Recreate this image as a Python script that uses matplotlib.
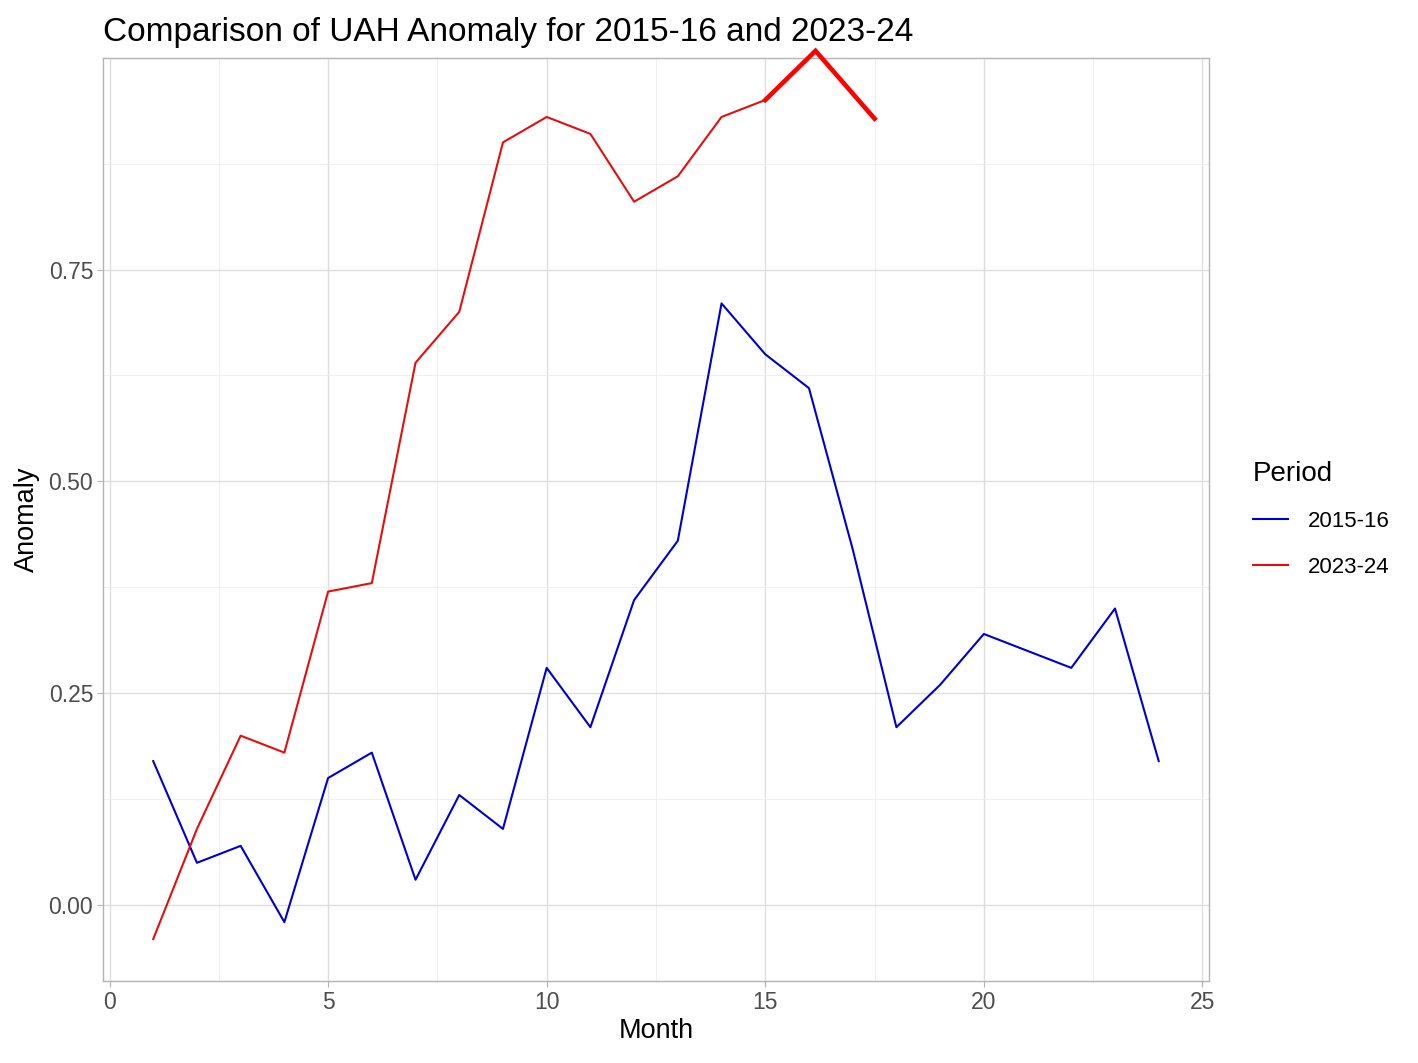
import matplotlib
matplotlib.use("Agg")
import matplotlib.pyplot as plt
from matplotlib.lines import Line2D

plt.rcParams['font.family'] = ['Liberation Sans', 'DejaVu Sans']

# 2015-16 anomalies, months 1..24
months_2015 = list(range(1, 25))
anom_2015 = [0.17, 0.05, 0.07, -0.02, 0.15, 0.18, 0.03, 0.13, 0.09, 0.28, 0.21, 0.36,
             0.43, 0.71, 0.65, 0.61, 0.42, 0.21, 0.26, 0.32, 0.30, 0.28, 0.35, 0.17]

# 2023-24 anomalies, months 1..15
months_2023 = list(range(1, 16))
anom_2023 = [-0.04, 0.09, 0.20, 0.18, 0.37, 0.38, 0.64, 0.70, 0.90, 0.93, 0.91, 0.83,
             0.86, 0.93, 0.95]

# extra highlighted segment (drawn on top, not clipped)
months_extra = [15, 16.15, 17.5]
anom_extra = [0.95, 1.008, 0.928]

fig = plt.figure(figsize=(14.18, 10.63), dpi=100)
ax = fig.add_axes([0.0726, 0.0771, 0.78, 0.8683])

ax.plot(months_2015, anom_2015, color='#0000CD', lw=1.5, zorder=3)
ax.plot(months_2023, anom_2023, color='#E01010', lw=1.5, zorder=3)
ax.plot(months_extra, anom_extra, color='#FF0000', lw=3.3, zorder=4,
        clip_on=False, solid_joinstyle='miter')

ax.set_xlim(-0.15, 25.15)
ax.set_ylim(-0.0895, 0.9995)
ax.set_xticks([0, 5, 10, 15, 20, 25])
ax.set_xticks([2.5, 7.5, 12.5, 17.5, 22.5], minor=True)
ax.set_yticks([0.0, 0.25, 0.5, 0.75])
ax.set_yticklabels(['0.00', '0.25', '0.50', '0.75'])
ax.set_yticks([-0.125 + 0.25 * i for i in range(5)][1:], minor=True)

ax.grid(which='major', color='#DEDEDE', lw=1.0)
ax.grid(which='minor', color='#EFEFEF', lw=0.7)
ax.set_axisbelow(True)
for s in ax.spines.values():
    s.set_color('#B3B3B3')
    s.set_linewidth(1.0)
ax.tick_params(which='major', length=4, color='#B3B3B3', labelsize=16.5,
               labelcolor='#4D4D4D', pad=3)
ax.tick_params(which='minor', length=0)

ax.set_xlabel('Month', fontsize=19.5, labelpad=3)
ax.set_ylabel('Anomaly', fontsize=19.5, labelpad=6)
ax.set_title('Comparison of UAH Anomaly for 2015-16 and 2023-24', fontsize=24,
             loc='left', x=0.0, pad=12)

handles = [Line2D([], [], color='#0000CD', lw=1.5),
           Line2D([], [], color='#E01010', lw=1.5)]
leg = fig.legend(handles, ['2015-16', '2023-24'], title='Period',
                 loc='upper left', bbox_to_anchor=(0.8775, 0.575),
                 frameon=False, fontsize=16, title_fontsize=20,
                 handlelength=1.55, handletextpad=0.9, labelspacing=1.1,
                 borderaxespad=0.0)
leg._legend_box.align = 'left'

fig.savefig('out.png', dpi=100)
